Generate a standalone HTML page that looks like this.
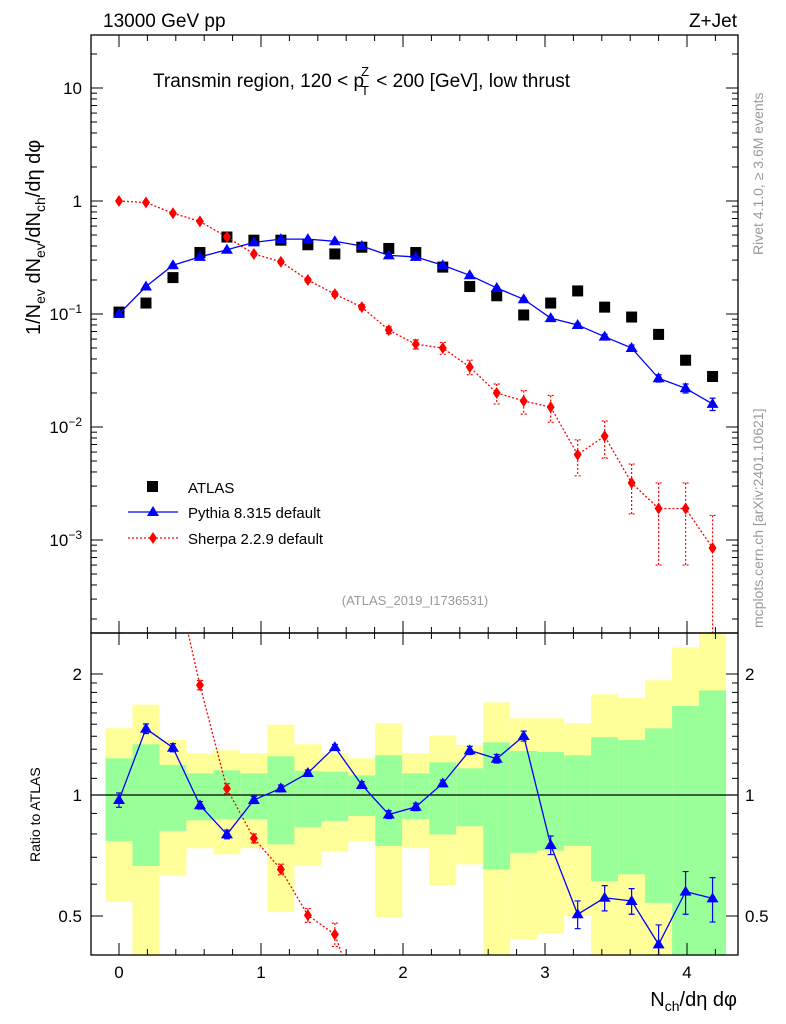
<!DOCTYPE html>
<html><head><meta charset="utf-8"><style>
html,body{margin:0;padding:0;background:#fff;overflow:hidden;width:786px;height:1024px;}
svg{display:block;font-family:"Liberation Sans",Arial,sans-serif;}
</style></head><body>
<svg id="c" width="786" height="1024" viewBox="0 0 786 1024" xmlns="http://www.w3.org/2000/svg">
<g id="bands"></g>
<g id="marks"></g>
<g id="axes"></g>
<text x="103" y="27" font-size="19">13000 GeV pp</text>
<text x="737" y="27" font-size="19" text-anchor="end">Z+Jet</text>
<text x="153" y="87" font-size="19">Transmin region, 120 &lt; p<tspan font-size="13" dy="-11" dx="-3">Z</tspan><tspan font-size="13" dy="19" dx="-8">T</tspan><tspan dy="-8" dx="2"> &lt; 200 [GeV], low thrust</tspan></text>
<text x="415" y="605" font-size="13" fill="#999" text-anchor="middle">(ATLAS_2019_I1736531)</text>
<text transform="translate(763,255) rotate(-90)" font-size="14" fill="#999">Rivet 4.1.0, ≥ 3.6M events</text>
<text transform="translate(763,628) rotate(-90)" font-size="14" fill="#999">mcplots.cern.ch [arXiv:2401.10621]</text>
<text transform="translate(40,335) rotate(-90)" font-size="20">1/N<tspan font-size="14" dy="5">ev</tspan><tspan dy="-5"> dN</tspan><tspan font-size="14" dy="5">ev</tspan><tspan dy="-5">/dN</tspan><tspan font-size="14" dy="5">ch</tspan><tspan dy="-5">/dη dφ</tspan></text>
<text transform="translate(40,862) rotate(-90)" font-size="14">Ratio to ATLAS</text>
<text x="737" y="1006" font-size="20" text-anchor="end">N<tspan font-size="14" dy="5">ch</tspan><tspan dy="-5">/dη dφ</tspan></text>
<g>
<rect x="147" y="481" width="11" height="11" fill="#000"/>
<text x="188" y="493" font-size="15">ATLAS</text>
<line x1="128" y1="512" x2="178" y2="512" stroke="#00f" stroke-width="1.3"/>
<polygon points="153,506 159,516 147,516" fill="#00f"/>
<text x="188" y="518" font-size="15">Pythia 8.315 default</text>
<line x1="128" y1="538" x2="178" y2="538" stroke="#f00" stroke-width="1.3" stroke-dasharray="2,2"/>
<polygon points="153,532 157,538 153,544 149,538" fill="#f00"/>
<text x="188" y="544" font-size="15">Sherpa 2.2.9 default</text>
</g>
</svg>
<script>
const xVals=[0,0.19,0.38,0.57,0.76,0.95,1.14,1.33,1.52,1.71,1.9,2.09,2.28,2.47,2.66,2.85,3.04,3.23,3.42,3.61,3.8,3.99,4.18];
const atlas=[0.104,0.125,0.21,0.35,0.48,0.45,0.45,0.41,0.34,0.39,0.38,0.35,0.26,0.175,0.145,0.098,0.125,0.16,0.115,0.094,0.066,0.039,0.028];
const pythia=[0.1,0.175,0.27,0.32,0.37,0.43,0.46,0.46,0.44,0.4,0.33,0.32,0.27,0.22,0.17,0.135,0.092,0.08,0.063,0.05,0.027,0.022,0.016];
const pythiaErr=[0.003,0.004,0.005,0.006,0.006,0.007,0.007,0.007,0.007,0.006,0.006,0.006,0.005,0.005,0.004,0.004,0.003,0.003,0.003,0.003,0.002,0.002,0.002];
const sherpa=[1.0,0.97,0.78,0.66,0.48,0.34,0.29,0.2,0.15,0.115,0.072,0.054,0.05,0.034,0.02,0.017,0.015,0.0057,0.0083,0.0032,0.0019,0.0019,0.00085];
const sherpaErr=[0.02,0.02,0.02,0.02,0.015,0.012,0.01,0.008,0.007,0.006,0.005,0.005,0.006,0.005,0.004,0.004,0.004,0.002,0.003,0.0015,0.0013,0.0013,0.0008];
const ratioPythia=[0.972,1.462,1.311,0.943,0.798,0.972,1.039,1.134,1.316,1.059,0.894,0.934,1.069,1.291,1.231,1.402,0.751,0.505,0.555,0.545,0.425,0.575,0.553];
const ratioPythiaErr=[0.04,0.04,0.03,0.02,0.02,0.02,0.02,0.02,0.02,0.02,0.02,0.02,0.02,0.03,0.03,0.04,0.04,0.04,0.04,0.04,0.05,0.07,0.07];
const ratioSherpa=[9.6,7.8,3.7,1.877,1.037,0.78,0.653,0.502,0.45,0.29,0.19];
const ratioSherpaErr=[0.1,0.1,0.08,0.05,0.03,0.02,0.02,0.02,0.03,0.03,0.03];
const yellowHi=[1.465,1.678,1.37,1.27,1.292,1.27,1.496,1.337,1.27,1.234,1.508,1.27,1.407,1.332,1.70,1.552,1.552,1.508,1.78,1.743,1.929,2.33,2.6];
const greenHi=[1.234,1.337,1.188,1.132,1.152,1.132,1.248,1.147,1.143,1.119,1.255,1.132,1.206,1.165,1.352,1.287,1.279,1.255,1.392,1.37,1.465,1.665,1.82];
const greenLo=[0.768,0.666,0.814,0.865,0.87,0.87,0.754,0.832,0.862,0.887,0.747,0.87,0.798,0.836,0.653,0.718,0.728,0.747,0.611,0.635,0.539,0.3,0.3];
const yellowLo=[0.542,0.3,0.631,0.737,0.712,0.737,0.512,0.666,0.723,0.768,0.496,0.737,0.597,0.672,0.3,0.437,0.453,0.5,0.3,0.3,0.3,0.3,0.3];
const xTicks=[0,1,2,3,4];
const yTicks=[10,1,0.1,0.01,0.001];
const yTickLabels=["10","1","10^-1","10^-2","10^-3"];
const rTicks=[0.5,1,2];

const NS="http://www.w3.org/2000/svg";
const L=91,R=738,T=35,B=633,RT=633,RB=955;
const X=v=>119+v*142;
const Y=v=>201-Math.log10(v)*113;
const RY=v=>795-Math.log2(v)*121;
const clampR=y=>Math.max(RT,Math.min(RB,y));
const clampM=y=>Math.max(T,Math.min(B,y));
function mk(tag,attrs,parent){const e=document.createElementNS(NS,tag);for(const k in attrs)e.setAttribute(k,attrs[k]);parent.appendChild(e);return e;}
const bands=document.getElementById('bands'),marks=document.getElementById('marks'),axes=document.getElementById('axes');
const hw=0.095*142;
xVals.forEach((x,i)=>{
  const y1=clampR(RY(yellowHi[i])),y2=clampR(RY(yellowLo[i]));
  let r=mk('rect',{x:X(x)-hw,y:y1,width:2*hw,height:y2-y1,fill:'#ffff99'},bands);
  
  
  const g1=clampR(RY(greenHi[i])),g2=clampR(RY(greenLo[i]));
  r=mk('rect',{x:X(x)-hw,y:g1,width:2*hw,height:g2-g1,fill:'#99ff99'},bands);
  
  
});
mk('line',{x1:L,x2:R,y1:RY(1),y2:RY(1),stroke:'#000','stroke-width':1.3},marks);
const defs=mk('defs',{},document.getElementById('c'));
const cm=mk('clipPath',{id:'cm'},defs);mk('rect',{x:L,y:T,width:R-L,height:B-T},cm);
const cr=mk('clipPath',{id:'cr'},defs);mk('rect',{x:L,y:RT,width:R-L,height:RB-RT},cr);
const gm=mk('g',{'clip-path':'url(#cm)'},marks),gr=mk('g',{'clip-path':'url(#cr)'},marks);
function series(g,xs,ys,errs,yf,cl,color,dash,shape,name){
  const pts=xs.slice(0,ys.length).map((x,i)=>X(x)+','+yf(ys[i])).join(' ');
  const pl=mk('polyline',{points:pts,fill:'none',stroke:color,'stroke-width':1.3},g);
  if(dash)pl.setAttribute('stroke-dasharray','2,2');
  
  
  ys.forEach((v,i)=>{
    const cx=X(xs[i]),cy=yf(v);
    const lo=Math.max(v-errs[i],1e-6),hi=v+errs[i];
    const yh=cl(yf(hi)),yl=cl(yf(lo));
    const e=mk('path',{d:`M${cx},${yh}V${yl}M${cx-3},${yh}h6M${cx-3},${yl}h6`,stroke:color,'stroke-width':1.2,fill:'none'},g);
    if(dash)e.setAttribute('stroke-dasharray','2,2');
    let m;
    if(shape==='tri')m=mk('polygon',{points:`${cx},${cy-6} ${cx+6},${cy+4} ${cx-6},${cy+4}`,fill:color},g);
    else m=mk('polygon',{points:`${cx},${cy-6} ${cx+4},${cy} ${cx},${cy+6} ${cx-4},${cy}`,fill:color},g);
    
    
  });
}
atlas.forEach((v,i)=>{
  const m=mk('rect',{x:X(xVals[i])-5.5,y:Y(v)-5.5,width:11,height:11,fill:'#000'},gm);
  
  
});
series(gm,xVals,sherpa,sherpaErr,Y,clampM,'#f00',true,'dia','sherpa');
series(gm,xVals,pythia,pythiaErr,Y,clampM,'#00f',false,'tri','pythia');
series(gr,xVals,ratioSherpa,ratioSherpaErr,RY,clampR,'#f00',true,'dia','sherpa-ratio');
series(gr,xVals,ratioPythia,ratioPythiaErr,RY,clampR,'#00f',false,'tri','pythia-ratio');
mk('rect',{x:L,y:T,width:R-L,height:B-T,fill:'none',stroke:'#000','stroke-width':1.3},axes);
mk('rect',{x:L,y:RT,width:R-L,height:RB-RT,fill:'none',stroke:'#000','stroke-width':1.3},axes);
for(let v=-0.2;v<=4.4;v+=0.2){const x=X(v);if(x<L||x>R)continue;
  const major=Math.abs(v-Math.round(v))<1e-6;const len=major?12:6;
  [[T,1],[B,-1],[RT,1],[RB,-1]].forEach(([y,s])=>mk('line',{x1:x,x2:x,y1:y,y2:y+s*len,stroke:'#000'},axes));}
xTicks.forEach(v=>{const t=mk('text',{x:X(v),y:978,'font-size':17,'text-anchor':'middle'},axes);t.textContent=v;
  });
for(let d=-4;d<=1;d++)for(let k=1;k<10;k++){const v=k*Math.pow(10,d);const y=Y(v);if(y<T||y>B)continue;
  const len=k===1?12:6;mk('line',{x1:L,x2:L+len,y1:y,y2:y,stroke:'#000'},axes);mk('line',{x1:R,x2:R-len,y1:y,y2:y,stroke:'#000'},axes);}
yTicks.forEach((v,i)=>{const lab=yTickLabels[i];const t=mk('text',{x:82,y:Y(v)+6,'font-size':17,'text-anchor':'end'},axes);
  if(lab.includes('^')){const [b,e]=lab.split('^');t.textContent=b;const ts=mk('tspan',{'font-size':12,dy:-7},t);ts.textContent=e.replace('-','−');}
  else t.textContent=lab;
  });
[0.4,0.5,0.6,0.7,0.8,0.9,1,2].forEach(v=>{const y=RY(v);if(y<RT||y>RB)return;const len=(v===0.5||v===1||v===2)?12:6;
  mk('line',{x1:L,x2:L+len,y1:y,y2:y,stroke:'#000'},axes);mk('line',{x1:R,x2:R-len,y1:y,y2:y,stroke:'#000'},axes);});
[1.1,1.2,1.3,1.4,1.5,1.6,1.7,1.8,1.9].forEach(v=>{const y=RY(v);mk('line',{x1:L,x2:L+6,y1:y,y2:y,stroke:'#000'},axes);mk('line',{x1:R,x2:R-6,y1:y,y2:y,stroke:'#000'},axes);});
rTicks.forEach(v=>{[[82,'end'],[745,'start']].forEach(([x,a])=>{const t=mk('text',{x:x,y:RY(v)+6,'font-size':17,'text-anchor':a},axes);t.textContent=v;
  });});
</script>
</body></html>
